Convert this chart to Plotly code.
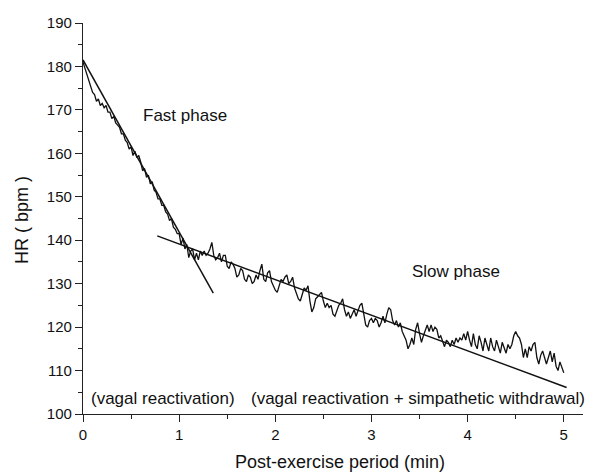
import plotly.graph_objects as go

# ---- data ----
sample_step_min = 0.02  # one HR sample every 0.02 min

hr_bpm = [
    181.0, 179.5, 178.0, 176.5, 175.5,   # 0.00-0.08
    174.0, 173.5, 172.0, 172.5, 171.0,   # 0.10-0.18
    171.5, 170.5, 171.0, 169.5, 169.5,   # 0.20-0.28
    168.0, 168.5, 167.0, 166.5, 166.0,   # 0.30-0.38
    164.5, 164.5, 163.0, 162.5, 161.0,   # 0.40-0.48
    161.5, 159.5, 160.5, 159.0, 159.5,   # 0.50-0.58
    158.0, 156.0, 156.5, 154.5, 155.0,   # 0.60-0.68
    153.0, 153.5, 151.5, 151.0, 149.5,   # 0.70-0.78
    149.5, 148.0, 148.0, 146.5, 146.0,   # 0.80-0.88
    144.5, 145.0, 143.0, 142.5, 141.5,   # 0.90-0.98
    141.5, 139.0, 140.5, 138.0, 139.0,   # 1.00-1.08
    136.0, 137.5, 138.0, 135.5, 137.0,   # 1.10-1.18
    135.5, 137.5, 136.5, 137.5, 136.5,   # 1.20-1.28
    137.0, 138.0, 139.5, 136.5, 135.5,   # 1.30-1.38
    136.0, 137.0, 135.0, 136.5, 136.5,   # 1.40-1.48
    134.0, 133.5, 135.0, 134.5, 133.5,   # 1.50-1.58
    131.5, 132.0, 133.5, 133.0, 131.0,   # 1.60-1.68
    130.5, 132.0, 131.5, 130.0, 130.5,   # 1.70-1.78
    132.0, 131.0, 133.0, 134.5, 131.0,   # 1.80-1.88
    130.5, 132.5, 133.0, 130.5, 129.5,   # 1.90-1.98
    128.5, 128.0, 129.5, 131.0, 130.5,   # 2.00-2.08
    131.5, 132.0, 130.0, 130.5, 131.5,   # 2.10-2.18
    129.0, 127.5, 126.5, 126.0, 127.5,   # 2.20-2.28
    129.0, 128.5, 129.5, 126.0, 123.5,   # 2.30-2.38
    124.5, 126.5, 127.0, 127.5, 128.0,   # 2.40-2.48
    126.0, 124.5, 125.5, 124.5, 125.0,   # 2.50-2.58
    123.0, 122.5, 124.0, 125.0, 125.5,   # 2.60-2.68
    126.5, 124.0, 122.5, 123.5, 122.0,   # 2.70-2.78
    123.0, 124.0, 122.5, 124.0, 125.0,   # 2.80-2.88
    125.5, 122.5, 120.5, 120.0, 121.5,   # 2.90-2.98
    122.0, 121.0, 122.0, 121.5, 120.0,   # 3.00-3.08
    121.0, 122.5, 121.0, 123.0, 124.5,   # 3.10-3.18
    124.0, 121.5, 120.5, 121.5, 120.0,   # 3.20-3.28
    121.0, 119.0, 118.0, 117.0, 115.0,   # 3.30-3.38
    116.0, 117.5, 116.0, 119.5, 121.0,   # 3.40-3.48
    118.5, 116.5, 118.0, 119.5, 120.5,   # 3.50-3.58
    119.0, 120.5, 119.0, 120.0, 119.5,   # 3.60-3.68
    117.5, 118.0, 116.5, 115.5, 117.0,   # 3.70-3.78
    116.5, 115.5, 117.0, 116.0, 117.5,   # 3.80-3.88
    116.5, 117.5, 117.0, 118.5, 117.0,   # 3.90-3.98
    119.0, 117.0, 115.5, 118.5, 116.0,   # 4.00-4.08
    115.0, 118.0, 116.5, 114.5, 117.5,   # 4.10-4.18
    116.0, 114.5, 117.5, 115.5, 114.5,   # 4.20-4.28
    117.0, 115.5, 114.0, 116.5, 115.0,   # 4.30-4.38
    114.0, 116.0, 115.0, 116.0, 118.0,   # 4.40-4.48
    119.0, 118.0, 117.5, 116.0, 113.0,   # 4.50-4.58
    115.0, 113.0, 115.5, 114.5, 116.0,   # 4.60-4.68
    116.5, 113.0, 111.5, 113.5, 114.5,   # 4.70-4.78
    113.0, 111.5, 113.0, 114.5, 112.0,   # 4.80-4.88
    114.0, 111.0, 110.0, 112.0, 110.5,   # 4.90-4.98
    109.5,                               # 5.00
]
time_min = [round(i * sample_step_min, 2) for i in range(len(hr_bpm))]

fast_fit_x = [0.0, 1.355]
fast_fit_y = [181.5, 127.8]
slow_fit_x = [0.772, 5.03]
slow_fit_y = [141.0, 106.1]

x_ticks = [0, 1, 2, 3, 4, 5]
y_ticks = [100, 110, 120, 130, 140, 150, 160, 170, 180, 190]

FONT = "Liberation Sans, Arial, Helvetica, sans-serif"
INK = "#111111"

fig = go.Figure()
fig.add_trace(go.Scatter(x=time_min, y=hr_bpm, mode="lines",
                         line=dict(color=INK, width=1.3), showlegend=False))
fig.add_trace(go.Scatter(x=fast_fit_x, y=fast_fit_y, mode="lines",
                         line=dict(color=INK, width=1.5), showlegend=False))
fig.add_trace(go.Scatter(x=slow_fit_x, y=slow_fit_y, mode="lines",
                         line=dict(color=INK, width=1.5), showlegend=False))

axis_common = dict(
    showgrid=False, zeroline=False, showline=True, linecolor="#222222", linewidth=1.3,
    ticks="outside", ticklen=7, tickwidth=1.3, tickcolor="#222222",
    tickfont=dict(family=FONT, size=15, color=INK), mirror=False,
)
fig.update_xaxes(range=[0, 5.2], tickvals=x_ticks,
                 minor=dict(dtick=0.5, ticks="outside", ticklen=4, tickwidth=1.2,
                            tickcolor="#222222"),
                 **axis_common)
fig.update_yaxes(range=[100, 190], tickvals=y_ticks,
                 minor=dict(dtick=5, ticks="outside", ticklen=4, tickwidth=1.2,
                            tickcolor="#222222"),
                 **axis_common)

ann_font = dict(family=FONT, size=17, color=INK)
annotations = [
    dict(x=1.06, y=168.8, xref="x", yref="y", text="Fast phase", showarrow=False,
         xanchor="center", yanchor="middle", font=ann_font),
    dict(x=3.88, y=132.9, xref="x", yref="y", text="Slow phase", showarrow=False,
         xanchor="center", yanchor="middle", font=ann_font),
    dict(x=0.06, y=103.5, xref="x", yref="y", text="(vagal reactivation)", showarrow=False,
         xanchor="left", yanchor="middle", font=ann_font),
    dict(x=1.725, y=103.5, xref="x", yref="y",
         text="(vagal reactivation + simpathetic withdrawal)", showarrow=False,
         xanchor="left", yanchor="middle", font=ann_font),
    dict(x=0.514, y=-0.1228, xref="paper", yref="paper", text="Post-exercise period (min)",
         showarrow=False, xanchor="center", yanchor="middle",
         font=dict(family=FONT, size=18, color=INK)),
    dict(x=-0.122, y=0.496, xref="paper", yref="paper", text="HR ( bpm )",
         showarrow=False, xanchor="center", yanchor="middle", textangle=-90,
         font=dict(family=FONT, size=18, color=INK)),
]

fig.update_layout(
    width=605, height=472,
    margin=dict(l=83, r=22, t=23, b=58),
    paper_bgcolor="white", plot_bgcolor="white",
    annotations=annotations,
)

fig.write_html("out.html")
